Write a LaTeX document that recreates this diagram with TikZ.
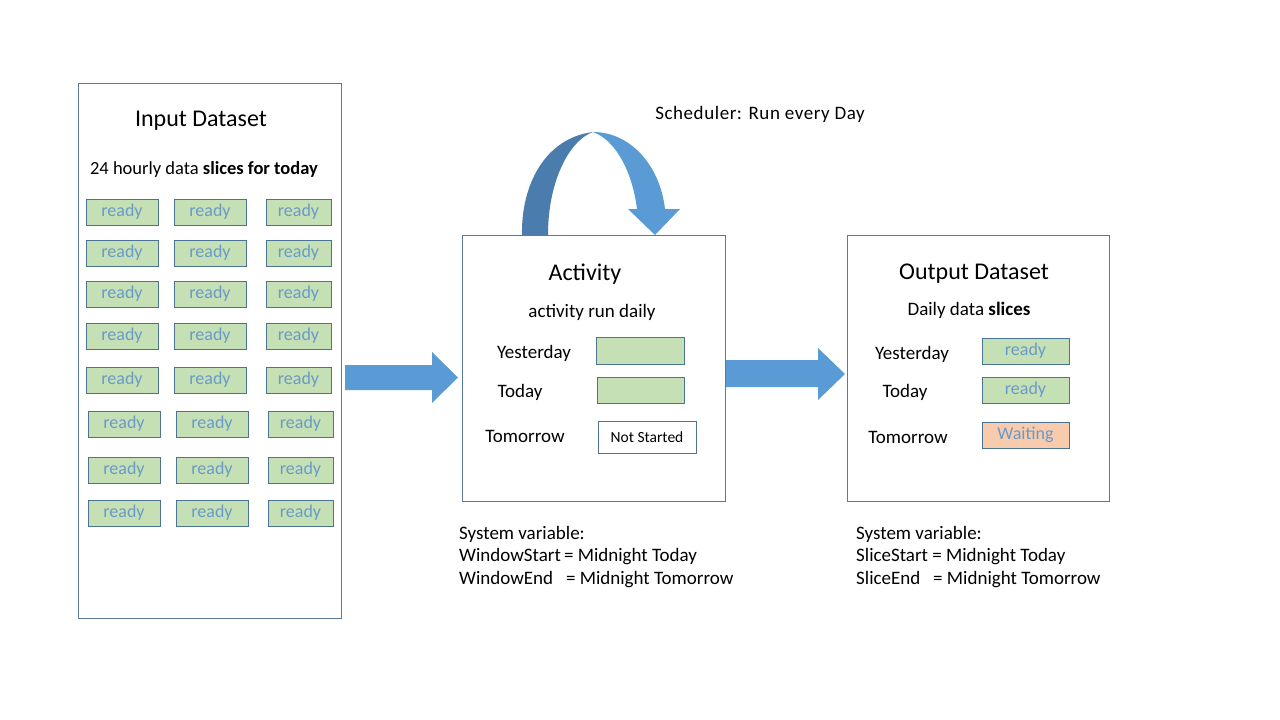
\documentclass[tikz,border=0pt]{standalone}
\usepackage{fontspec}
\setmainfont{Carlito}
\usetikzlibrary{positioning}
\definecolor{frameLine}{HTML}{5A7C9A}
\definecolor{boxLine}{HTML}{4A7396}
\definecolor{sliceGreen}{HTML}{C5E0B4}
\definecolor{readyBlue}{HTML}{6A9AC9}
\definecolor{waitPeach}{HTML}{F8CBAD}
\definecolor{arrowBlue}{HTML}{5B9BD5}
\definecolor{arrowDark}{HTML}{4A7DAE}
\tikzstyle{dataset} = [rectangle, draw=frameLine, line width=0.8pt, inner sep=0pt]
\tikzstyle{slice} = [rectangle, draw=boxLine, fill=sliceGreen, line width=0.8pt, minimum width=72, minimum height=26, inner sep=0pt, text=readyBlue, font=\fontsize{18}{20}\selectfont]
\tikzstyle{waiting} = [slice, fill=waitPeach]
\tikzstyle{notStarted} = [rectangle, draw=boxLine, line width=0.8pt, minimum width=98, minimum height=32, inner sep=0pt, font=\fontsize{15.5}{18}\selectfont]
\tikzstyle{rowText} = [font=\fontsize{19}{22}\selectfont, inner sep=0pt]
\tikzstyle{title} = [font=\fontsize{24}{28}\selectfont, inner sep=0pt]
\tikzstyle{note} = [font=\fontsize{19}{22.5}\selectfont, align=left, inner sep=0pt, anchor=north west]
\tikzstyle{blockArrow} = [fill=arrowBlue, draw=none]
\begin{document}
\begin{tikzpicture}[x=1pt, y=-1pt]
\useasboundingbox (0,0) rectangle (1280,720);

% Boxes
\node (inputBox) [dataset, minimum width=263, minimum height=535] at (209.5,350.5) {};
\node (activityBox) [dataset, minimum width=263, minimum height=266] at (593.5,368) {};
\node (outputBox) [dataset, minimum width=262, minimum height=266] at (978,368) {};

% Input dataset
\node (inputTitle) [title] at (201,121) {Input Dataset};
\node (inputSub) [rowText, font=\fontsize{18.5}{22}\selectfont] at (204,169) {24 hourly data \textbf{slices for today}};
\foreach \y [count=\i] in {212,253,294,336,380} {
  \node (slice\i a) [slice] at (122,\y) {ready};
  \node (slice\i b) [slice] at (210,\y) {ready};
  \node (slice\i c) [slice, minimum width=65] at (298.5,\y) {ready};
}
\foreach \y [count=\i from 6] in {424,470,513} {
  \node (slice\i a) [slice] at (124,\y) {ready};
  \node (slice\i b) [slice] at (212,\y) {ready};
  \node (slice\i c) [slice, minimum width=65] at (300.5,\y) {ready};
}

% Activity
\node (activityTitle) [title] at (585,274) {Activity};
\node (activitySub) [rowText] at (592,312) {activity run daily};
\node (actYesterday) [rowText] at (534,353) {Yesterday};
\node (actToday) [rowText] at (520,392) {Today};
\node (actTomorrow) [rowText] at (525,436) {Tomorrow};
\node (actSliceY) [slice, minimum width=88, minimum height=27] at (640,350.5) {};
\node (actSliceT) [slice, minimum width=87, minimum height=26] at (640.5,390) {};
\node (actSliceN) [notStarted] at (647,437) {Not Started};

% Output dataset
\node (outputTitle) [title] at (974,274) {Output Dataset};
\node (outputSub) [rowText] at (969,310) {Daily data \textbf{slices}};
\node (outYesterday) [rowText] at (912,354) {Yesterday};
\node (outToday) [rowText] at (905,392) {Today};
\node (outTomorrow) [rowText] at (908,437) {Tomorrow};
\node (outSliceY) [slice, minimum width=87] at (1025.5,351) {ready};
\node (outSliceT) [slice, minimum width=87] at (1025.5,390) {ready};
\node (outSliceN) [waiting, minimum width=87] at (1025.5,435) {Waiting};

% Scheduler loop
\node (scheduler) [rowText, font=\fontsize{19}{22}\selectfont\addfontfeature{LetterSpace=3}] at (760,114) {Scheduler: Run every Day};
\fill[arrowDark] (522,235) .. controls (521,185) and (545,138) .. (593,132)
  .. controls (570,140) and (548,180) .. (548,235) -- cycle;
\fill[arrowBlue] (593,132) .. controls (630,132) and (660,165) .. (665,209)
  -- (680,209) -- (655,235) -- (628,209) -- (637,209)
  .. controls (632,170) and (615,140) .. (593,132) -- cycle;

% Arrows
\fill[blockArrow] (345,365) -- (432,365) -- (432,352) -- (458,377.5) -- (432,403) -- (432,390) -- (345,390) -- cycle;
\fill[blockArrow] (726,360) -- (818,360) -- (818,348) -- (845,374) -- (818,400) -- (818,387) -- (726,387) -- cycle;

% System variables
\node (actVars) [note] at (459,526) {System variable:\\WindowStart\,= Midnight Today\\WindowEnd\ \ \ = Midnight Tomorrow};
\node (outVars) [note] at (856,526) {System variable:\\SliceStart = Midnight Today\\SliceEnd\ \ \ = Midnight Tomorrow};

\end{tikzpicture}
\end{document}
